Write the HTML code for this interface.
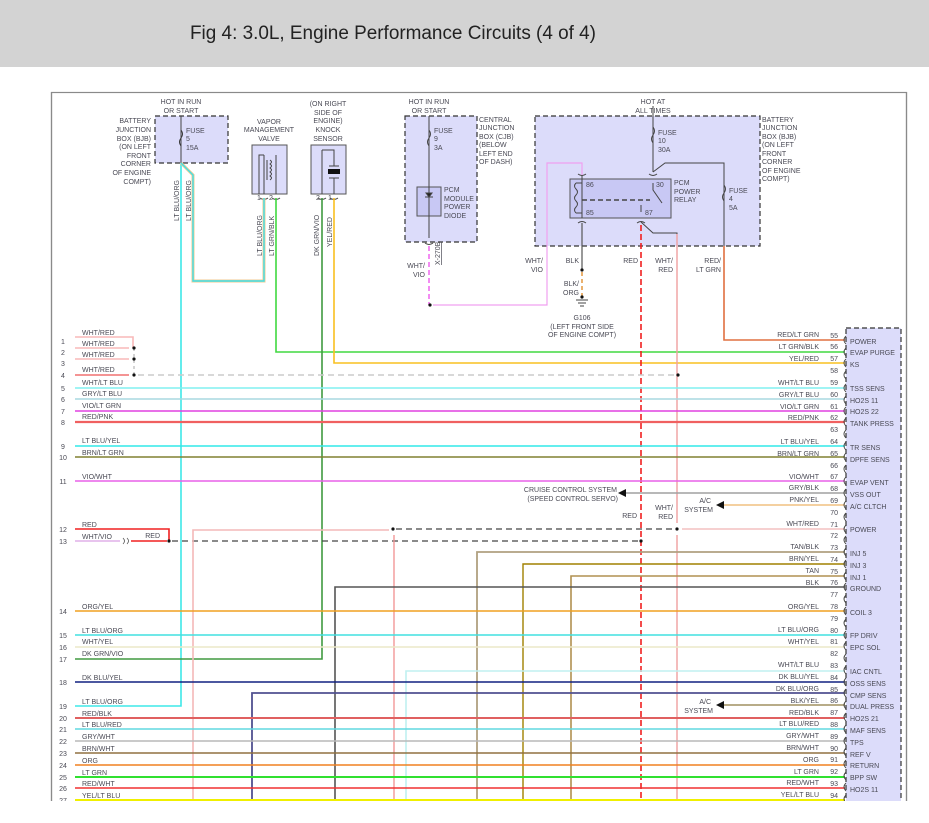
<!DOCTYPE html>
<html><head><meta charset="utf-8"><style>
html,body{margin:0;padding:0;background:#fff;}
svg{display:block;}
text{font-family:"Liberation Sans",sans-serif;font-size:7px;fill:#4a4a55;}
</style></head><body>
<svg width="929" height="823" viewBox="0 0 929 823" xmlns="http://www.w3.org/2000/svg">
<rect x="0" y="0" width="929" height="67" fill="#d3d3d3"/>
<text x="190" y="39" style="font-size:19px;fill:#222" textLength="406" lengthAdjust="spacingAndGlyphs">Fig 4: 3.0L, Engine Performance Circuits (4 of 4)</text>
<rect x="51.5" y="92.5" width="855" height="720" fill="#fff" stroke="#8a8a8a" stroke-width="1.2"/>
<rect x="0" y="801" width="929" height="22" fill="#fff"/>
<line x1="51.5" y1="92" x2="51.5" y2="801" stroke="#8a8a8a" stroke-width="1.2"/>
<line x1="906.5" y1="92" x2="906.5" y2="801" stroke="#8a8a8a" stroke-width="1.2"/>

<!-- component boxes -->
<g stroke="#333" stroke-width="1.2" stroke-dasharray="5,3" fill="#dcdcfa">
<rect x="155" y="116" width="73" height="47"/>
<rect x="405" y="116" width="72" height="126"/>
<rect x="535" y="116" width="225" height="130"/>
<rect x="846" y="328" width="55" height="480"/>
</g>
<g stroke="#555" stroke-width="1" fill="#dcdcfa">
<rect x="252" y="145" width="35" height="49"/>
<rect x="311" y="145" width="35" height="49"/>
<rect x="417" y="187" width="24" height="29" fill="#c8c8f4"/>
<rect x="570" y="179" width="101" height="39" fill="#c8c8f4"/>
</g>

<!-- top labels -->
<g text-anchor="middle">
<text x="181" y="104">HOT IN RUN</text><text x="181" y="113">OR START</text>
<text x="429" y="104">HOT IN RUN</text><text x="429" y="113">OR START</text>
<text x="653" y="104">HOT AT</text><text x="653" y="113">ALL TIMES</text>
<text x="269" y="124">VAPOR</text><text x="269" y="132">MANAGEMENT</text><text x="269" y="141">VALVE</text>
<text x="328" y="106">(ON RIGHT</text><text x="328" y="115">SIDE OF</text><text x="328" y="123">ENGINE)</text><text x="328" y="132">KNOCK</text><text x="328" y="141">SENSOR</text>
<text x="582" y="320">G106</text><text x="582" y="329">(LEFT FRONT SIDE</text><text x="582" y="337">OF ENGINE COMPT)</text>
</g>
<g text-anchor="end">
<text x="151" y="123">BATTERY</text><text x="151" y="132">JUNCTION</text><text x="151" y="141">BOX (BJB)</text><text x="151" y="149">(ON LEFT</text><text x="151" y="158">FRONT</text><text x="151" y="166">CORNER</text><text x="151" y="175">OF ENGINE</text><text x="151" y="184">COMPT)</text>
</g>
<g>
<text x="479" y="122">CENTRAL</text><text x="479" y="130">JUNCTION</text><text x="479" y="139">BOX (CJB)</text><text x="479" y="147">(BELOW</text><text x="479" y="156">LEFT END</text><text x="479" y="164">OF DASH)</text>
<text x="762" y="122">BATTERY</text><text x="762" y="130">JUNCTION</text><text x="762" y="139">BOX (BJB)</text><text x="762" y="147">(ON LEFT</text><text x="762" y="156">FRONT</text><text x="762" y="164">CORNER</text><text x="762" y="173">OF ENGINE</text><text x="762" y="181">COMPT)</text>
<text x="186" y="133">FUSE</text><text x="186" y="141">5</text><text x="186" y="150">15A</text>
<text x="434" y="133">FUSE</text><text x="434" y="141">9</text><text x="434" y="150">3A</text>
<text x="658" y="135">FUSE</text><text x="658" y="143">10</text><text x="658" y="152">30A</text>
<text x="729" y="193">FUSE</text><text x="729" y="201">4</text><text x="729" y="210">5A</text>
<text x="444" y="192">PCM</text><text x="444" y="201">MODULE</text><text x="444" y="209">POWER</text><text x="444" y="218">DIODE</text>
<text x="674" y="185">PCM</text><text x="674" y="194">POWER</text><text x="674" y="202">RELAY</text>
<text x="586" y="187">86</text><text x="586" y="215">85</text><text x="656" y="187">30</text><text x="645" y="215">87</text>
</g>
<g text-anchor="end">
<text x="425" y="268">WHT/</text><text x="425" y="277">VIO</text>
<text x="543" y="263">WHT/</text><text x="543" y="272">VIO</text>
<text x="579" y="263">BLK</text>
<text x="579" y="286">BLK/</text><text x="579" y="295">ORG</text>
<text x="638" y="263">RED</text>
<text x="673" y="263">WHT/</text><text x="673" y="272">RED</text>
<text x="721" y="263">RED/</text><text x="721" y="272">LT GRN</text>
</g>
<!-- vertical wire labels -->
<g>
<text transform="translate(179,221) rotate(-90)">LT BLU/ORG</text>
<text transform="translate(191,221) rotate(-90)">LT BLU/ORG</text>
<text transform="translate(262,256) rotate(-90)">LT BLU/ORG</text>
<text transform="translate(274,256) rotate(-90)">LT GRN/BLK</text>
<text transform="translate(319,256) rotate(-90)">DK GRN/VIO</text>
<text transform="translate(332,247) rotate(-90)">YEL/RED</text>
<text transform="translate(440,265) rotate(-90)" style="text-decoration:underline">X-270B</text>
<text x="257" y="200">1</text><text x="269" y="200">2</text><text x="316" y="200">2</text><text x="328" y="200">1</text>
</g>

<!-- internal component drawing -->
<g stroke="#444" stroke-width="1" fill="none">
<line x1="181" y1="116" x2="181" y2="163"/>
<path d="M181 130 q3 4 0 8 q-3 4 0 8" stroke="#333"/>
<line x1="429" y1="116" x2="429" y2="238"/>
<path d="M429 130 q3 4 0 8 q-3 4 0 8"/>
<path d="M425 197 h8 M429 197 l-3 -4 h6 z" fill="#222"/>
<line x1="653" y1="106" x2="653" y2="172"/>
<path d="M653 127 q3 4 0 8 q-3 4 0 8"/>
<path d="M653 172 L665 163 H724 V246"/>
<path d="M724 185 q3 4 0 8 q-3 4 0 8"/>
<path d="M653 183 V190 L662 203"/>
<line x1="641" y1="205" x2="641" y2="212"/>
<path d="M641 222 L653 233 H677 V246"/>
<path d="M582 175 V218"/>
<path d="M576 183 h6 M576 213 h6 M576 183 q-3 3 0 6 q3 3 0 6 q-3 3 0 6 q3 3 0 6 q-3 3 0 6 V213"/>
<line x1="582" y1="200" x2="650" y2="200" stroke-dasharray="5,3" stroke-width="1.5"/>
<path d="M264 155 H259 V194 M264 155 V194 M270 160 q3 2 0 4 q3 2 0 4 q3 2 0 4 q3 2 0 4 q3 2 0 4 M267 160 V180 M276 155 V194"/>
<path d="M322 150 V194 M322 150 H334 V166 M334 178 V194 M329 166 h10 M329 178 h10"/>
<rect x="328" y="169" width="12" height="5" fill="#111" stroke="none"/>
<path d="M425 243 q4 3 8 0 M578 223 q4 -3 8 0 M578 174 q4 3 8 0 M649 174 q4 3 8 0 M637 223 q4 -3 8 0 M260 198 q4 3 8 0 M272 198 q4 3 8 0 M318 198 q4 3 8 0 M330 198 q4 3 8 0"/>
<path d="M576 300 h12 M578 303 h8 M580 306 h4"/>
</g>

<!-- wires -->
<g fill="none" stroke-width="1.6">
<!-- fuse 5 outputs -->
<path d="M181 163 V706 H75" stroke="#3ee8e8"/>
<path d="M181 163 L193 175 V281 H264 V198" stroke="#f0c890" stroke-width="3"/>
<path d="M181 163 L193 175 V281 H264 V198" stroke="#40e0e8" stroke-width="1.4"/>
<path d="M276 198 V352 H845" stroke="#40d840"/>
<path d="M322 198 V659 H75" stroke="#409a40"/>
<path d="M334 198 V363 H845" stroke="#f8c020"/>
<path d="M429 246 V305" stroke="#f070f0" stroke-dasharray="5,3"/>
<path d="M433 305 H547 V163 H582 V175" stroke="#f0a0f0" stroke-width="1.2"/>
<path d="M582 223 V269" stroke="#555" stroke-width="1.2"/>
<path d="M582 272 V300" stroke="#e09030" stroke-dasharray="4,3" stroke-width="1.4"/>
<path d="M724 246 V340 H845" stroke="#e07040"/>
<path d="M641 225 V800" stroke="#f02020" stroke-dasharray="6,3"/>
<path d="M677 234 V523 M677 535 V800" stroke="#f0a0a0" stroke-width="1.4"/>
<!-- left stubs rows 1-4 -->
<path d="M75 337 H133 V348" stroke="#f8b8b8"/>
<path d="M75 348 H129 M75 359 H129" stroke="#f8b8b8"/>
<path d="M75 375 H129" stroke="#f07070"/>
<path d="M134 348 V375" stroke="#aaa" stroke-dasharray="3,3" stroke-width="1"/>
<path d="M138 375 H675" stroke="#ccc" stroke-dasharray="6,4"/>
<!-- full width rows -->
<path d="M75 388 H845" stroke="#80f0f0"/>
<path d="M75 399 H845" stroke="#a8d8e0"/>
<path d="M75 411 H845" stroke="#e040e0"/>
<path d="M75 422 H845" stroke="#f06060" stroke-width="2.2"/>
<path d="M75 446 H845" stroke="#30e8e8"/>
<path d="M75 457 H845" stroke="#808030"/>
<path d="M75 481 H845" stroke="#e860e8"/>
<path d="M626 493 H845" stroke="#a0a0a0"/>
<path d="M724 505 H845" stroke="#f0c080"/>
<!-- rows 12/13 -->
<path d="M75 529 H169 V541" stroke="#f02020"/>
<path d="M75 541 H120" stroke="#e0b0e8"/>
<path d="M131 541 H167" stroke="#f02020"/>
<path d="M123 538 q3 3 0 6 M127 538 q3 3 0 6" stroke="#555" stroke-width="0.8"/>
<path d="M172 541 H639" stroke="#444" stroke-dasharray="6,4" stroke-width="1.3"/>
<path d="M193 800 V530 H389" stroke="#f4b8b8"/>
<path d="M396 529 H675" stroke="#444" stroke-dasharray="6,4" stroke-width="1.3"/>
<path d="M682 529 H845" stroke="#f4c0c0"/>
<path d="M394 535 V800" stroke="#f09090" stroke-width="1.3"/>
<path d="M477 800 V552 H845" stroke="#b0a080" stroke-width="1.8"/>
<path d="M523 800 V564 H845" stroke="#a08000" stroke-width="1.4"/>
<path d="M571 800 V576 H845" stroke="#b09050" stroke-width="1.6"/>
<path d="M335 800 V587 H845" stroke="#555"/>
<path d="M75 611 H845" stroke="#f0a020"/>
<path d="M75 635 H845" stroke="#40e0e0"/>
<path d="M75 647 H845" stroke="#ece8c8"/>
<path d="M406 800 V671 H845" stroke="#c0f0f0"/>
<path d="M75 682 H845" stroke="#102080"/>
<path d="M252 800 V693 H845" stroke="#505090" stroke-width="1.8"/>
<path d="M724 705 H845" stroke="#a09060"/>
<path d="M75 718 H845" stroke="#e06060" stroke-width="2"/>
<path d="M75 729 H845" stroke="#60d8e0"/>
<path d="M75 741 H845" stroke="#b8b8b8"/>
<path d="M75 753 H845" stroke="#907040"/>
<path d="M75 765 H845" stroke="#f08020"/>
<path d="M75 777 H845" stroke="#30e030" stroke-width="2"/>
<path d="M75 788 H845" stroke="#f03030"/>
<path d="M75 800 H845" stroke="#f0f000" stroke-width="2"/>
</g>
<!-- dots & arrows -->
<g fill="#111">
<circle cx="134" cy="348" r="1.6"/><circle cx="134" cy="359" r="1.6"/><circle cx="134" cy="375" r="1.6"/>
<circle cx="678" cy="375" r="1.6"/><circle cx="430" cy="305" r="1.6"/><circle cx="582" cy="270" r="1.6"/><circle cx="582" cy="297" r="1.6"/>
<circle cx="169" cy="541" r="1.6"/><circle cx="641" cy="541" r="1.6"/><circle cx="393" cy="529" r="1.6"/><circle cx="677" cy="529" r="1.6"/>
<path d="M618 493 l8 -4 v8 z"/><path d="M716 505 l8 -4 v8 z"/><path d="M716 705 l8 -4 v8 z"/>
</g>
<g text-anchor="end">
<text x="617" y="492">CRUISE CONTROL SYSTEM</text><text x="618" y="501">(SPEED CONTROL SERVO)</text>
<text x="637" y="518">RED</text><text x="673" y="510">WHT/</text><text x="673" y="519">RED</text>
<text x="711" y="503">A/C</text><text x="713" y="512">SYSTEM</text>
<text x="711" y="704">A/C</text><text x="713" y="713">SYSTEM</text>
<text x="160" y="538">RED</text>
</g>

<!-- left labels -->
<g>
<text x="82" y="335">WHT/RED</text><text x="82" y="346">WHT/RED</text><text x="82" y="357">WHT/RED</text><text x="82" y="372">WHT/RED</text>
<text x="82" y="385">WHT/LT BLU</text><text x="82" y="396">GRY/LT BLU</text><text x="82" y="408">VIO/LT GRN</text><text x="82" y="419">RED/PNK</text>
<text x="82" y="443">LT BLU/YEL</text><text x="82" y="455">BRN/LT GRN</text><text x="82" y="479">VIO/WHT</text>
<text x="82" y="527">RED</text><text x="82" y="539">WHT/VIO</text>
<text x="82" y="609">ORG/YEL</text><text x="82" y="633">LT BLU/ORG</text><text x="82" y="644">WHT/YEL</text><text x="82" y="656">DK GRN/VIO</text>
<text x="82" y="680">DK BLU/YEL</text><text x="82" y="704">LT BLU/ORG</text><text x="82" y="716">RED/BLK</text><text x="82" y="727">LT BLU/RED</text>
<text x="82" y="739">GRY/WHT</text><text x="82" y="751">BRN/WHT</text><text x="82" y="763">ORG</text><text x="82" y="775">LT GRN</text><text x="82" y="786">RED/WHT</text><text x="82" y="798">YEL/LT BLU</text>
</g>
<g text-anchor="middle">
<text x="63" y="344">1</text><text x="63" y="355">2</text><text x="63" y="366">3</text><text x="63" y="378">4</text><text x="63" y="391">5</text><text x="63" y="402">6</text><text x="63" y="414">7</text><text x="63" y="425">8</text>
<text x="63" y="449">9</text><text x="63" y="460">10</text><text x="63" y="484">11</text><text x="63" y="532">12</text><text x="63" y="544">13</text><text x="63" y="614">14</text>
<text x="63" y="638">15</text><text x="63" y="650">16</text><text x="63" y="662">17</text><text x="63" y="685">18</text><text x="63" y="709">19</text><text x="63" y="721">20</text>
<text x="63" y="732">21</text><text x="63" y="744">22</text><text x="63" y="756">23</text><text x="63" y="768">24</text><text x="63" y="780">25</text><text x="63" y="791">26</text><text x="63" y="803">27</text>
</g>

<!-- right connector pins -->
<g text-anchor="end">
<text x="819" y="337">RED/LT GRN</text><text x="819" y="349">LT GRN/BLK</text><text x="819" y="361">YEL/RED</text>
<text x="819" y="385">WHT/LT BLU</text><text x="819" y="397">GRY/LT BLU</text><text x="819" y="409">VIO/LT GRN</text><text x="819" y="420">RED/PNK</text>
<text x="819" y="444">LT BLU/YEL</text><text x="819" y="456">BRN/LT GRN</text><text x="819" y="479">VIO/WHT</text><text x="819" y="490">GRY/BLK</text><text x="819" y="502">PNK/YEL</text>
<text x="819" y="526">WHT/RED</text><text x="819" y="549">TAN/BLK</text><text x="819" y="561">BRN/YEL</text><text x="819" y="573">TAN</text><text x="819" y="585">BLK</text>
<text x="819" y="609">ORG/YEL</text><text x="819" y="632">LT BLU/ORG</text><text x="819" y="644">WHT/YEL</text><text x="819" y="667">WHT/LT BLU</text><text x="819" y="679">DK BLU/YEL</text>
<text x="819" y="691">DK BLU/ORG</text><text x="819" y="703">BLK/YEL</text><text x="819" y="715">RED/BLK</text><text x="819" y="726">LT BLU/RED</text><text x="819" y="738">GRY/WHT</text>
<text x="819" y="750">BRN/WHT</text><text x="819" y="762">ORG</text><text x="819" y="774">LT GRN</text><text x="819" y="785">RED/WHT</text><text x="819" y="797">YEL/LT BLU</text>
<text x="838" y="338">55</text><text x="838" y="349">56</text><text x="838" y="361">57</text><text x="838" y="373">58</text><text x="838" y="385">59</text><text x="838" y="397">60</text><text x="838" y="409">61</text><text x="838" y="420">62</text>
<text x="838" y="432">63</text><text x="838" y="444">64</text><text x="838" y="456">65</text><text x="838" y="468">66</text><text x="838" y="479">67</text><text x="838" y="491">68</text><text x="838" y="503">69</text><text x="838" y="515">70</text>
<text x="838" y="527">71</text><text x="838" y="538">72</text><text x="838" y="550">73</text><text x="838" y="562">74</text><text x="838" y="574">75</text><text x="838" y="585">76</text><text x="838" y="597">77</text><text x="838" y="609">78</text>
<text x="838" y="621">79</text><text x="838" y="633">80</text><text x="838" y="644">81</text><text x="838" y="656">82</text><text x="838" y="668">83</text><text x="838" y="680">84</text><text x="838" y="692">85</text><text x="838" y="703">86</text>
<text x="838" y="715">87</text><text x="838" y="727">88</text><text x="838" y="739">89</text><text x="838" y="751">90</text><text x="838" y="762">91</text><text x="838" y="774">92</text><text x="838" y="786">93</text><text x="838" y="798">94</text>
</g>
<g fill="none" stroke="#444" stroke-width="0.9">
<path d="M846 336 q-4 4 0 8 M846 348 q-4 4 0 8 M846 359 q-4 4 0 8 M846 371 q-4 4 0 8 M846 384 q-4 4 0 8 M846 396 q-4 4 0 8 M846 407 q-4 4 0 8 M846 418 q-4 4 0 8 M846 430 q-4 4 0 8 M846 442 q-4 4 0 8 M846 453 q-4 4 0 8 M846 465 q-4 4 0 8 M846 477 q-4 4 0 8 M846 489 q-4 4 0 8 M846 501 q-4 4 0 8 M846 513 q-4 4 0 8 M846 525 q-4 4 0 8 M846 536 q-4 4 0 8 M846 548 q-4 4 0 8 M846 560 q-4 4 0 8 M846 572 q-4 4 0 8 M846 583 q-4 4 0 8 M846 595 q-4 4 0 8 M846 607 q-4 4 0 8 M846 619 q-4 4 0 8 M846 631 q-4 4 0 8 M846 642 q-4 4 0 8 M846 654 q-4 4 0 8 M846 666 q-4 4 0 8 M846 678 q-4 4 0 8 M846 689 q-4 4 0 8 M846 701 q-4 4 0 8 M846 713 q-4 4 0 8 M846 725 q-4 4 0 8 M846 737 q-4 4 0 8 M846 748 q-4 4 0 8 M846 760 q-4 4 0 8 M846 772 q-4 4 0 8 M846 783 q-4 4 0 8 M846 795 q-4 4 0 8"/>
</g>
<g>
<text x="850" y="344">POWER</text><text x="850" y="355">EVAP PURGE</text><text x="850" y="367">KS</text><text x="850" y="391">TSS SENS</text><text x="850" y="403">HO2S 11</text><text x="850" y="414">HO2S 22</text><text x="850" y="426">TANK PRESS</text>
<text x="850" y="450">TR SENS</text><text x="850" y="462">DPFE SENS</text><text x="850" y="485">EVAP VENT</text><text x="850" y="497">VSS OUT</text><text x="850" y="509">A/C CLTCH</text><text x="850" y="532">POWER</text>
<text x="850" y="556">INJ 5</text><text x="850" y="568">INJ 3</text><text x="850" y="580">INJ 1</text><text x="850" y="591">GROUND</text><text x="850" y="615">COIL 3</text><text x="850" y="638">FP DRIV</text><text x="850" y="650">EPC SOL</text>
<text x="850" y="674">IAC CNTL</text><text x="850" y="686">OSS SENS</text><text x="850" y="698">CMP SENS</text><text x="850" y="709">DUAL PRESS</text><text x="850" y="721">HO2S 21</text><text x="850" y="733">MAF SENS</text><text x="850" y="745">TPS</text>
<text x="850" y="757">REF V</text><text x="850" y="768">RETURN</text><text x="850" y="780">BPP SW</text><text x="850" y="792">HO2S 11</text>
</g>
<rect x="0" y="801" width="929" height="22" fill="#fff"/>
</svg>
</body></html>
